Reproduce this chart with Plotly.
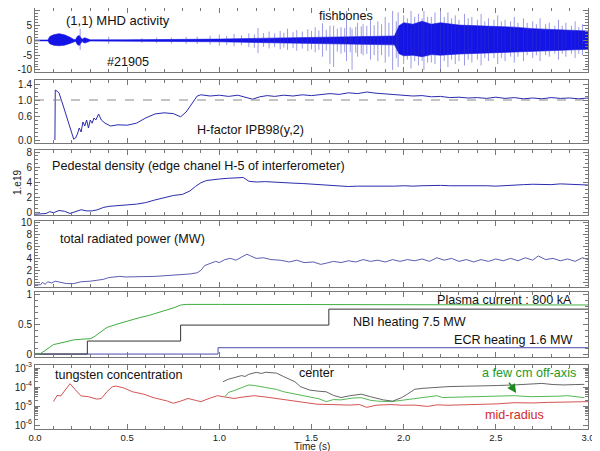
import plotly.graph_objects as go

# ---------------- data ----------------
# Panel 1: (1,1) MHD activity - core envelope and individual spikes
mhd_env_t = [0.0, 0.07, 0.08, 0.10, 0.13, 0.16, 0.19, 0.21, 0.22, 0.23, 0.24, 0.255, 0.27, 0.30,
             0.50, 0.80, 1.00, 1.20, 1.40, 1.60, 1.80, 1.95, 1.975, 2.00, 2.05, 2.10, 2.15, 2.20,
             2.30, 2.40, 2.50, 2.60, 2.70, 2.80, 2.90, 3.00]
mhd_env_hi = [0.15, 0.15, 1.3, 1.9, 2.3, 1.9, 1.1, 0.35, 0.3, 1.4, 1.7, 0.4, 0.9, 0.2,
              0.22, 0.3, 0.45, 0.7, 0.95, 1.2, 1.5, 1.5, 5.0, 6.0, 5.5, 6.5, 5.5, 6.0,
              5.2, 5.0, 4.6, 4.5, 4.0, 3.8, 3.4, 3.2]
mhd_env_lo = [-0.15, -0.15, -1.1, -1.6, -1.8, -1.6, -1.0, -0.35, -0.3, -1.4, -1.7, -0.4, -0.9, -0.2,
              -0.22, -0.3, -0.45, -0.7, -0.95, -1.2, -1.5, -1.5, -4.5, -5.2, -5.0, -5.5, -4.8, -5.0,
              -4.6, -4.4, -4.2, -4.0, -3.8, -3.5, -3.2, -3.0]
spike_t = [0.245, 0.40, 0.58, 0.66, 0.74, 0.82, 0.88, 0.95, 1.00, 1.04, 1.08, 1.12, 1.16, 1.19,
           1.21, 1.24, 1.27, 1.30, 1.33, 1.35, 1.37, 1.40, 1.42, 1.45, 1.48, 1.50, 1.52, 1.54,
           1.56, 1.58, 1.60, 1.62, 1.64, 1.66, 1.68, 1.69, 1.71, 1.72, 1.74, 1.75, 1.77, 1.78,
           1.80, 1.82, 1.84, 1.86, 1.88, 1.90, 1.92, 1.94, 1.96, 1.97,
           2.00, 2.02, 2.04, 2.06, 2.08, 2.10, 2.11, 2.13, 2.15, 2.17, 2.20, 2.22, 2.24, 2.26,
           2.28, 2.30, 2.33, 2.35, 2.37, 2.40, 2.42, 2.44, 2.46, 2.49, 2.51, 2.53, 2.55, 2.58,
           2.60, 2.62, 2.65, 2.67, 2.70, 2.72, 2.74, 2.77, 2.79, 2.82, 2.84, 2.86, 2.88, 2.91,
           2.93, 2.95, 2.97]
spike_hi = [4.0, 1.3, 0.8, 1.0, 1.0, 1.2, 1.3, 1.6, 2.0, 1.5, 2.2, 1.8, 2.4, 2.0,
            4.2, 2.5, 3.0, 2.4, 3.2, 2.6, 4.0, 2.8, 3.5, 3.0, 3.8, 3.2, 4.5, 3.4,
            5.8, 3.6, 5.0, 5.0, 4.0, 4.5, 4.2, 10.0, 4.5, 4.0, 4.6, 6.0, 4.8, 5.5,
            5.0, 7.0, 5.2, 6.5, 5.5, 8.0, 6.0, 10.0, 6.5, 9.5,
            8.5, 7.5, 10.0, 8.0, 9.0, 7.5, 10.0, 8.0, 8.0, 9.5, 10.0, 8.0, 9.5, 7.5,
            8.5, 7.0, 9.0, 7.5, 8.0, 7.0, 9.0, 6.5, 7.5, 7.0, 8.5, 6.5, 7.0, 6.5,
            8.0, 6.0, 7.5, 6.0, 6.5, 5.5, 7.5, 5.5, 6.0, 5.0, 7.0, 5.0, 6.0, 5.0,
            6.5, 4.5, 5.5]
spike_lo = [-3.2, -1.2, -0.8, -0.9, -1.0, -1.1, -1.2, -1.4, -1.8, -1.5, -2.0, -1.6, -2.2, -2.5,
            -4.3, -2.2, -2.7, -2.3, -3.0, -2.4, -3.2, -2.6, -3.5, -2.8, -3.6, -3.0, -4.0, -3.2,
            -5.5, -3.4, -8.0, -9.0, -3.8, -4.5, -4.0, -7.0, -4.0, -10.0, -4.2, -5.5, -4.5, -5.0,
            -4.6, -6.5, -5.0, -7.0, -5.0, -7.5, -5.5, -10.0, -6.0, -9.0,
            -8.0, -6.5, -9.5, -7.0, -8.5, -7.0, -10.0, -7.5, -7.5, -8.0, -10.0, -7.0, -9.0, -6.5,
            -8.0, -7.0, -8.5, -6.5, -7.5, -6.5, -8.5, -6.0, -7.0, -6.0, -8.0, -6.0, -7.0, -5.5,
            -7.5, -5.5, -7.0, -5.0, -6.0, -5.0, -7.0, -5.0, -5.5, -4.5, -6.5, -4.5, -5.5, -4.5,
            -6.0, -4.5, -5.0]

# Panel 2: H-factor IPB98(y,2)
h_t = [0.108, 0.110, 0.12, 0.13, 0.15, 0.17, 0.19, 0.21, 0.22, 0.23, 0.24, 0.25, 0.26, 0.27, 0.28,
       0.29, 0.30, 0.31, 0.32, 0.33, 0.345, 0.36, 0.38, 0.41, 0.45, 0.50, 0.55, 0.60, 0.65, 0.70,
       0.75, 0.79, 0.82, 0.85, 0.88, 0.90, 0.95, 1.00, 1.05, 1.10, 1.15, 1.18, 1.22, 1.26, 1.30,
       1.35, 1.40, 1.45, 1.50, 1.55, 1.60, 1.65, 1.70, 1.75, 1.80, 1.85, 1.90, 1.95, 2.00, 2.05,
       2.10, 2.15, 2.20, 2.25, 2.30, 2.35, 2.40, 2.45, 2.50, 2.55, 2.60, 2.65, 2.70, 2.75, 2.80,
       2.85, 2.90, 2.95, 3.00]
h_val = [0.0, 1.25, 1.22, 1.18, 0.90, 0.60, 0.30, 0.02, 0.05, 0.15, 0.30, 0.20, 0.45, 0.35, 0.50,
         0.30, 0.50, 0.42, 0.55, 0.50, 0.65, 0.50, 0.42, 0.35, 0.38, 0.37, 0.42, 0.55, 0.65, 0.68,
         0.66, 0.58, 0.70, 0.90, 1.10, 1.13, 1.10, 1.12, 1.09, 1.12, 1.06, 1.02, 1.08, 1.11, 1.09,
         1.12, 1.10, 1.13, 1.11, 1.14, 1.16, 1.14, 1.18, 1.16, 1.20, 1.17, 1.15, 1.13, 1.12, 1.10,
         1.11, 1.08, 1.09, 1.06, 1.07, 1.05, 1.06, 1.04, 1.07, 1.04, 1.06, 1.03, 1.05, 1.03, 1.06,
         1.04, 1.05, 1.03, 1.05]
h_ref = 1.0

# Panel 3: pedestal density (1e19 m^-3)
ne_t = [0.00, 0.03, 0.06, 0.08, 0.10, 0.13, 0.16, 0.19, 0.22, 0.25, 0.28, 0.31, 0.34, 0.37, 0.40,
        0.45, 0.50, 0.55, 0.60, 0.65, 0.70, 0.75, 0.80, 0.84, 0.87, 0.90, 0.93, 0.97, 1.00, 1.05,
        1.10, 1.13, 1.16, 1.20, 1.25, 1.30, 1.35, 1.40, 1.45, 1.50, 1.55, 1.60, 1.65, 1.70, 1.75,
        1.80, 1.85, 1.90, 1.95, 2.00, 2.05, 2.10, 2.15, 2.20, 2.25, 2.30, 2.35, 2.40, 2.45, 2.50,
        2.55, 2.60, 2.65, 2.70, 2.75, 2.80, 2.85, 2.90, 2.95, 3.00]
ne_val = [-0.3, -0.3, -0.2, 0.05, -0.1, 0.2, 0.1, -0.2, 0.1, 0.3, 0.15, 0.15, 0.3, 0.6, 0.75,
          0.8, 0.95, 1.05, 1.25, 1.6, 1.95, 2.2, 2.35, 2.8, 3.4, 3.9, 4.2, 4.35, 4.4, 4.5,
          4.55, 4.6, 4.1, 4.0, 4.05, 3.95, 3.9, 3.85, 3.8, 3.7, 3.6, 3.55, 3.5, 3.4, 3.45,
          3.45, 3.35, 3.4, 3.45, 3.5, 3.45, 3.5, 3.55, 3.55, 3.5, 3.5, 3.6, 3.55, 3.5, 3.45,
          3.55, 3.6, 3.65, 3.7, 3.65, 3.65, 3.75, 3.7, 3.65, 3.6]

# Panel 4: total radiated power (MW)
prad_t = [0.00, 0.03, 0.04, 0.055, 0.07, 0.09, 0.11, 0.13, 0.17, 0.21, 0.25, 0.30, 0.34, 0.37,
          0.40, 0.43, 0.46, 0.49, 0.53, 0.60, 0.65, 0.70, 0.75, 0.80, 0.84, 0.88, 0.90, 0.92,
          0.95, 0.98, 1.00, 1.03, 1.06, 1.09, 1.12, 1.15, 1.17, 1.20, 1.24, 1.28, 1.33, 1.38,
          1.42, 1.46, 1.51, 1.55, 1.58, 1.62, 1.66, 1.70, 1.74, 1.78, 1.82, 1.86, 1.90, 1.94,
          1.98, 2.02, 2.06, 2.10, 2.14, 2.18, 2.22, 2.26, 2.30, 2.34, 2.38, 2.42, 2.46, 2.50,
          2.54, 2.58, 2.62, 2.66, 2.70, 2.73, 2.77, 2.81, 2.85, 2.89, 2.93, 2.97, 3.00]
prad_val = [-0.3, -0.3, 0.1, -0.2, 0.2, 0.0, 0.3, 0.2, -0.1, -0.1, 0.2, 0.3, 0.4, 0.6,
            0.9, 1.0, 1.1, 1.0, 1.0, 1.05, 1.1, 1.2, 1.3, 1.45, 1.5, 1.7, 2.1, 2.9,
            3.3, 3.6, 3.4, 3.9, 4.1, 3.8, 4.3, 4.8, 4.5, 4.1, 4.2, 3.9, 3.8, 3.5,
            3.8, 3.4, 3.5, 3.1, 3.3, 3.6, 3.4, 3.7, 3.5, 3.9, 3.6, 3.8, 3.5, 3.9,
            3.6, 3.9, 3.7, 4.0, 3.6, 4.2, 3.8, 4.1, 3.6, 3.9, 3.5, 3.9, 3.6, 4.0,
            3.7, 4.1, 3.7, 4.2, 3.8, 4.5, 3.9, 4.1, 3.7, 4.0, 3.6, 4.2, 3.9]

# Panel 5: plasma current, NBI and ECR (normalised)
ip_t = [0.0, 0.025, 0.05, 0.073, 0.09, 0.10, 0.13, 0.17, 0.21, 0.25, 0.28, 0.30, 0.32, 0.36,
        0.39, 0.45, 0.50, 0.56, 0.625, 0.68, 0.72, 0.76, 0.79, 0.82, 1.0, 1.5, 2.0, 2.5, 3.0]
ip_val = [0.0, 0.0, 0.05, 0.10, 0.14, 0.16, 0.18, 0.21, 0.24, 0.25, 0.25, 0.26, 0.29, 0.38,
          0.45, 0.51, 0.56, 0.61, 0.66, 0.71, 0.75, 0.79, 0.83, 0.84, 0.84, 0.84, 0.84, 0.84, 0.83]
nbi_t = [0.0, 0.284, 0.79, 1.594, 3.0]
nbi_val = [0.0, 0.22, 0.49, 0.76, 0.76]
ecr_t = [0.0, 0.993, 3.0]
ecr_val = [0.0, 0.107, 0.107]

# Panel 6: tungsten concentration
w_mid_t = [0.10, 0.12, 0.14, 0.17, 0.19, 0.22, 0.25, 0.29, 0.335, 0.36, 0.39, 0.42, 0.44, 0.48,
           0.53, 0.59, 0.64, 0.72, 0.75, 0.79, 0.83, 0.87, 0.90, 0.95, 0.99, 1.03, 1.08, 1.13,
           1.19, 1.25, 1.35, 1.45, 1.53, 1.62, 1.71, 1.76, 1.80, 1.85, 1.93, 1.99, 2.06, 2.13,
           2.18, 2.24, 2.33, 2.42, 2.51, 2.60, 2.70, 2.78, 2.87, 2.96, 3.00]
w_mid = [1.7e-5, 3.6e-5, 3.4e-5, 8e-5, 1.5e-4, 7e-5, 3.4e-5, 3.1e-5, 2.3e-5, 2.5e-5, 5.6e-5,
         1.05e-4, 1.12e-4, 9e-5, 5.6e-5, 4.2e-5, 2.8e-5, 1.8e-5, 1.4e-5, 1.8e-5, 2.5e-5, 2.0e-5,
         1.7e-5, 2.6e-5, 3.5e-5, 3.0e-5, 2.5e-5, 3.0e-5, 3.5e-5, 3.0e-5, 2.1e-5, 1.6e-5, 1.25e-5,
         1.2e-5, 1.12e-5, 1.2e-5, 8.5e-6, 1.1e-5, 1.2e-5, 1.1e-5, 1.12e-5, 9.5e-6, 1.15e-5,
         1.1e-5, 1.15e-5, 1.25e-5, 1.3e-5, 1.5e-5, 1.45e-5, 1.55e-5, 1.6e-5, 1.7e-5, 1.7e-5]
w_cen_t = [1.02, 1.05, 1.08, 1.12, 1.14, 1.16, 1.20, 1.23, 1.25, 1.27, 1.31, 1.35, 1.41, 1.44,
           1.49, 1.54, 1.58, 1.62, 1.66, 1.71, 1.77, 1.82, 1.89, 1.94, 1.99, 2.02, 2.06, 2.10,
           2.14, 2.24, 2.33, 2.42, 2.51, 2.60, 2.68, 2.75, 2.81, 2.87, 2.93, 2.98]
w_cen = [1.9e-4, 2.6e-4, 3.1e-4, 4.0e-4, 3.6e-4, 4.7e-4, 5.9e-4, 5.2e-4, 6.0e-4, 5.9e-4, 5.4e-4,
         3.5e-4, 1.9e-4, 1.05e-4, 6.9e-5, 6.0e-5, 5.6e-5, 3.6e-5, 2.8e-5, 3.5e-5, 4.2e-5, 3.1e-5,
         2.1e-5, 1.8e-5, 2.8e-5, 4.2e-5, 7.6e-5, 8.5e-5, 9.1e-5, 1.05e-4, 1.1e-4, 1.12e-4, 1.2e-4,
         1.29e-4, 1.4e-4, 1.55e-4, 1.35e-4, 1.29e-4, 1.35e-4, 1.38e-4]
w_off_t = [1.03, 1.05, 1.08, 1.11, 1.14, 1.16, 1.19, 1.22, 1.27, 1.31, 1.35, 1.40, 1.44, 1.49,
           1.54, 1.58, 1.62, 1.66, 1.72, 1.77, 1.82, 1.86, 1.93, 1.99, 2.06, 2.12, 2.18, 2.21,
           2.27, 2.33, 2.42, 2.51, 2.60, 2.69, 2.78, 2.84, 2.89, 2.94, 2.98]
w_off = [3.1e-5, 5.2e-5, 6.5e-5, 8.5e-5, 1.1e-4, 1.29e-4, 1.2e-4, 1.05e-4, 9.1e-5, 7.5e-5,
         5.6e-5, 4.5e-5, 3.8e-5, 3.1e-5, 2.4e-5, 1.7e-5, 2.2e-5, 2.1e-5, 2.6e-5, 2.75e-5, 2.0e-5,
         1.8e-5, 1.7e-5, 2.0e-5, 2.5e-5, 2.9e-5, 3.5e-5, 2.8e-5, 2.9e-5, 2.75e-5, 2.9e-5, 3.1e-5,
         3.5e-5, 3.1e-5, 3.1e-5, 3.3e-5, 3.5e-5, 3.0e-5, 2.75e-5]

x_ticks = [0.0, 0.5, 1.0, 1.5, 2.0, 2.5, 3.0]
x_tick_text = ["0.0", "0.5", "1.0", "1.5", "2.0", "2.5", "3.0"]

# ---------------- figure ----------------
# The page body adds an 8 px margin, so the figure is 8 px smaller and all
# reference pixel positions are shifted by OFF.
OFF = 8
W, H = 600 - OFF, 451 - OFF
FONT = "Liberation Sans, Arial, Helvetica, sans-serif"
FRAME = "#777777"

# panel pixel bounds in reference window (top, bottom)
panels = [(8, 72), (80, 143), (150, 215), (221, 287), (292, 357), (365, 429)]
domains = [[1 - (b - OFF) / H, 1 - (t - OFF) / H] for (t, b) in panels]
PLOT_L, PLOT_R = 35 - OFF, 588 - OFF

fig = go.Figure()

def xa(n):
    return "x" if n == 1 else f"x{n}"

def ya(n):
    return "y" if n == 1 else f"y{n}"

# Panel 1
sx, sy = [], []
for t, hi, lo in zip(spike_t, spike_hi, spike_lo):
    sx += [t, t, None]
    sy += [lo, hi, None]
fig.add_trace(go.Scatter(x=mhd_env_t, y=mhd_env_hi, mode="lines", line=dict(color="#1010e0", width=0.6),
                         xaxis=xa(1), yaxis=ya(1)))
fig.add_trace(go.Scatter(x=mhd_env_t, y=mhd_env_lo, mode="lines", line=dict(color="#1010e0", width=0.6),
                         fill="tonexty", fillcolor="#1414e6", xaxis=xa(1), yaxis=ya(1)))
fig.add_trace(go.Scatter(x=sx, y=sy, mode="lines", line=dict(color="rgba(50,50,200,0.7)", width=0.7),
                         xaxis=xa(1), yaxis=ya(1), hoverinfo="skip"))

# Panel 2
fig.add_trace(go.Scatter(x=h_t, y=h_val, mode="lines", line=dict(color="#2b2bb0", width=1),
                         xaxis=xa(2), yaxis=ya(2)))
# Panel 3
fig.add_trace(go.Scatter(x=ne_t, y=ne_val, mode="lines", line=dict(color="#2b2bb0", width=1),
                         xaxis=xa(3), yaxis=ya(3)))
# Panel 4
fig.add_trace(go.Scatter(x=prad_t, y=prad_val, mode="lines", line=dict(color="#4a4aa8", width=0.9),
                         xaxis=xa(4), yaxis=ya(4)))
# Panel 5
fig.add_trace(go.Scatter(x=ecr_t, y=ecr_val, mode="lines", line=dict(color="#4a4ab0", width=1, shape="hv"),
                         xaxis=xa(5), yaxis=ya(5)))
fig.add_trace(go.Scatter(x=nbi_t, y=nbi_val, mode="lines", line=dict(color="#333333", width=1, shape="hv"),
                         xaxis=xa(5), yaxis=ya(5)))
fig.add_trace(go.Scatter(x=ip_t, y=ip_val, mode="lines", line=dict(color="#3fae3f", width=1),
                         xaxis=xa(5), yaxis=ya(5)))
# Panel 6
fig.add_trace(go.Scatter(x=w_mid_t, y=w_mid, mode="lines", line=dict(color="#d04040", width=0.9),
                         xaxis=xa(6), yaxis=ya(6)))
fig.add_trace(go.Scatter(x=w_off_t, y=w_off, mode="lines", line=dict(color="#40b040", width=0.9),
                         xaxis=xa(6), yaxis=ya(6)))
fig.add_trace(go.Scatter(x=w_cen_t, y=w_cen, mode="lines", line=dict(color="#555555", width=0.9),
                         xaxis=xa(6), yaxis=ya(6)))

fig.add_shape(type="line", xref="x2 domain", yref="y2", x0=0, x1=1, y0=h_ref, y1=h_ref,
              line=dict(color="#888888", width=1, dash="dash"))

tickfont = dict(family=FONT, size=10, color="#222222")
xtickfont = dict(family=FONT, size=9.5, color="#222222")
layout = dict(width=W, height=H, margin=dict(l=PLOT_L, r=W - PLOT_R, t=0, b=0, autoexpand=False),
              showlegend=False, plot_bgcolor="white", paper_bgcolor="white", font=dict(family=FONT))

log_minor = [k * 10.0 ** e for e in (-6, -5, -4) for k in range(2, 10)]

yspecs = [
    dict(range=[-10.7, 11], tickvals=[-10, -5, 0, 5, 10], ticktext=["-10", "-5", "0", "5", "10"], minor=1),
    dict(range=[-0.075, 1.5], tickvals=[0.0, 0.6, 1.0, 1.4], ticktext=["0.0", "0.6", "1.0", "1.4"], minor=0.1),
    dict(range=[-0.4, 8.27], tickvals=[0, 2, 4, 6, 8], ticktext=["0", "2", "4", "6", "8"], minor=0.5),
    dict(range=[-0.67, 10.33], tickvals=[0, 2, 4, 6, 8, 10], ticktext=["0", "2", "4", "6", "8", "10"], minor=0.5),
    dict(range=[-0.05, 1.05], tickvals=[0, 0.5, 1], ticktext=["0", "0.5", "1"], minor=0.1),
    dict(range=[-6.21, -2.84], tickvals=[1e-6, 1e-5, 1e-4, 1e-3],
         ticktext=["10<sup>-6</sup>", "10<sup>-5</sup>", "10<sup>-4</sup>", "10<sup>-3</sup>"], minor=None),
]

for i in range(1, 7):
    xk = "xaxis" if i == 1 else f"xaxis{i}"
    yk = "yaxis" if i == 1 else f"yaxis{i}"
    layout[xk] = dict(domain=[0, 1], anchor=ya(i), range=[0, 3.0], showgrid=False, zeroline=False,
                      showline=True, linecolor=FRAME, linewidth=1, mirror="allticks",
                      ticks="inside", ticklen=5, tickcolor=FRAME, tickvals=x_ticks, ticktext=x_tick_text,
                      showticklabels=(i == 6), tickfont=xtickfont, automargin=False,
                      minor=dict(dtick=0.1, ticks="inside", ticklen=3, tickcolor=FRAME, showgrid=False))
    if i != 1:
        layout[xk]["matches"] = "x"
    s = yspecs[i - 1]
    yd = dict(domain=domains[i - 1], anchor=xa(i), range=s["range"], showgrid=False, zeroline=False,
              showline=True, linecolor=FRAME, linewidth=1, mirror="allticks",
              ticks="inside", ticklen=5, tickcolor=FRAME, tickvals=s["tickvals"], ticktext=s["ticktext"],
              tickfont=tickfont, automargin=False)
    if i == 6:
        yd["type"] = "log"
        yd["minor"] = dict(tickvals=log_minor, ticks="inside", ticklen=3, tickcolor=FRAME, showgrid=False)
    else:
        yd["minor"] = dict(dtick=s["minor"], ticks="inside", ticklen=3, tickcolor=FRAME, showgrid=False)
    layout[yk] = yd

fig.update_layout(**layout)

def txt(text, x, y, n, xanchor="center", color="#111111", size=12.6):
    fig.add_annotation(text=text, x=x, y=y, xref=xa(n), yref=ya(n), showarrow=False,
                       xanchor=xanchor, yanchor="middle", font=dict(family=FONT, size=size, color=color))

txt("(1,1) MHD activity", 0.45, 6.6, 1, size=13)
txt("#21905", 0.505, -7.3, 1)
txt("fishbones", 1.685, 8.3, 1)
txt("H-factor IPB98(y,2)", 0.87, 0.25, 2, xanchor="left")
txt("Pedestal density (edge chanel H-5 of interferometer)", 0.082, 6.2, 3, xanchor="left")
txt("total radiated power (MW)", 0.125, 7.3, 4, xanchor="left")
txt("Plasma current : 800 kA", 2.924, 0.915, 5, xanchor="right")
txt("NBI heating 7.5 MW", 1.712, 0.55, 5, xanchor="left")
txt("ECR heating 1.6 MW", 2.924, 0.24, 5, xanchor="right")
txt("tungsten concentration", 0.098, -3.37, 6, xanchor="left")
txt("center", 1.42, -3.26, 6, xanchor="left")
txt("a few cm off-axis", 2.946, -3.26, 6, xanchor="right", color="#1e9a1e")
txt("mid-radius", 2.6, -5.47, 6, color="#d02a2a")
fig.add_annotation(x=2.61, y=-4.32, xref="x6", yref="y6", ax=-8, ay=-12, showarrow=True,
                   arrowhead=2, arrowsize=1.2, arrowwidth=1.5, arrowcolor="#1e8a1e", text="")
fig.add_annotation(text="Time (s)", x=0.5, y=0.0, xref="paper", yref="paper", showarrow=False,
                   xanchor="center", yanchor="bottom", yshift=-2, borderpad=0,
                   font=dict(family=FONT, size=10, color="#222222"))
fig.add_annotation(text="1.e19", x=(17 - 35) / (PLOT_R - PLOT_L), y=1 - (183 - OFF) / H, xref="paper",
                   yref="paper", showarrow=False, textangle=-90, xanchor="center", yanchor="middle",
                   font=dict(family=FONT, size=10, color="#222222"))

fig.write_html("out.html")
